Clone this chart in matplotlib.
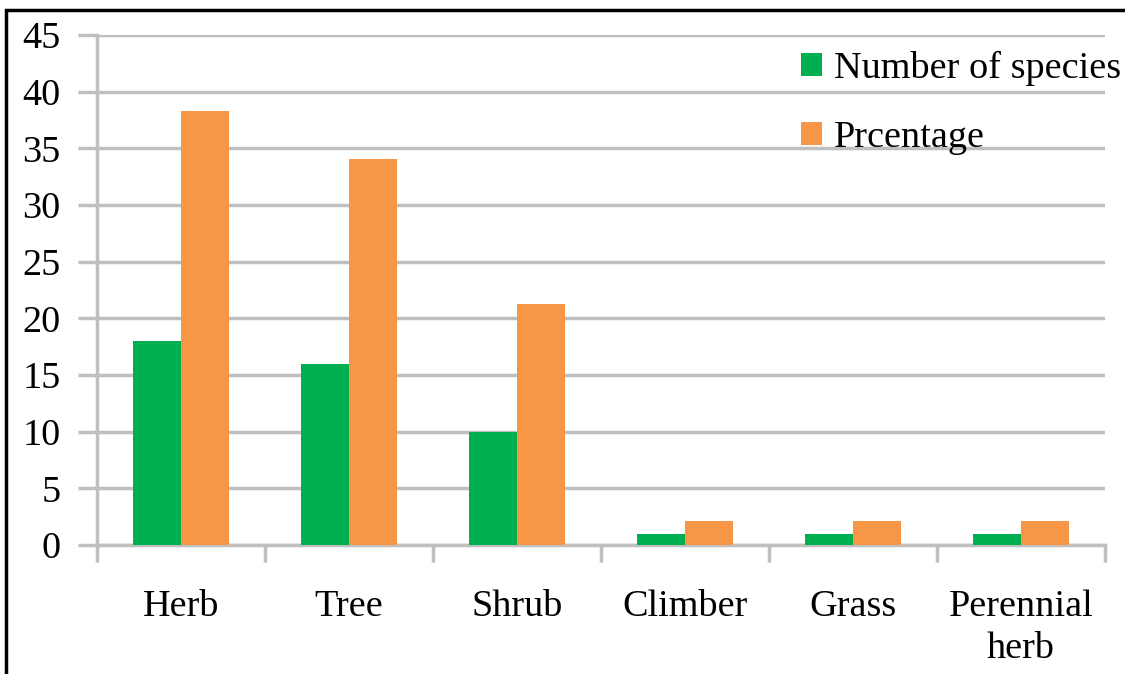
import matplotlib.pyplot as plt
import numpy as np
from matplotlib.patches import Rectangle

# Life forms of the recorded species
categories = ["Herb", "Tree", "Shrub", "Climber", "Grass", "Perennial\nherb"]
species = [18, 16, 10, 1, 1, 1]
percentage = [38.3, 34.04, 21.28, 2.13, 2.13, 2.13]

plt.rcParams['font.family'] = ['Liberation Serif', 'DejaVu Serif']

fig = plt.figure(figsize=(11.25, 6.74), dpi=100)
ax = fig.add_axes([0.0862, 0.1914, 0.8960, 0.7567])

x = np.arange(len(categories))
w = 0.286
grid_col = '#bfbfbf'
fs = 27.5

ax.bar(x - w / 2, species, w, color='#00B050', label='Number of species', zorder=3)
ax.bar(x + w / 2, percentage, w, color='#F79646', label='Prcentage', zorder=3)

ax.set_xlim(-0.5, len(categories) - 0.5)
ax.set_ylim(0, 45)
ax.set_yticks(range(0, 50, 5))
ax.yaxis.grid(True, color=grid_col, linewidth=2.5, zorder=0)

# category tick marks sit on the group boundaries
ax.set_xticks(np.arange(-0.5, len(categories), 1.0))
ax.set_xticklabels([])
ax.set_xticks(x, minor=True)
ax.set_xticklabels(categories, minor=True, fontsize=fs, linespacing=1.3)
ax.tick_params(axis='x', which='major', length=12, width=2.5, color=grid_col)
ax.tick_params(axis='x', which='minor', length=0, pad=32)
ax.tick_params(axis='y', direction='out', length=14, width=2.5, color=grid_col,
               labelsize=fs, pad=12)

for side in ['top', 'right']:
    ax.spines[side].set_visible(False)
for side in ['left', 'bottom']:
    ax.spines[side].set_color(grid_col)
    ax.spines[side].set_linewidth(2.5)

ax.legend(loc='upper right', bbox_to_anchor=(1.031, 0.998), frameon=False, fontsize=fs,
          handlelength=0.55, handleheight=0.55, handletextpad=0.3, labelspacing=0.9,
          borderaxespad=0)

# frame around the whole figure
fig.patches.append(Rectangle((6 / 1125, -0.05), 1.2, 1 - 10 / 674 + 0.05,
                             transform=fig.transFigure, fill=False,
                             edgecolor='black', linewidth=2.5))

fig.savefig('out.png', dpi=100)
